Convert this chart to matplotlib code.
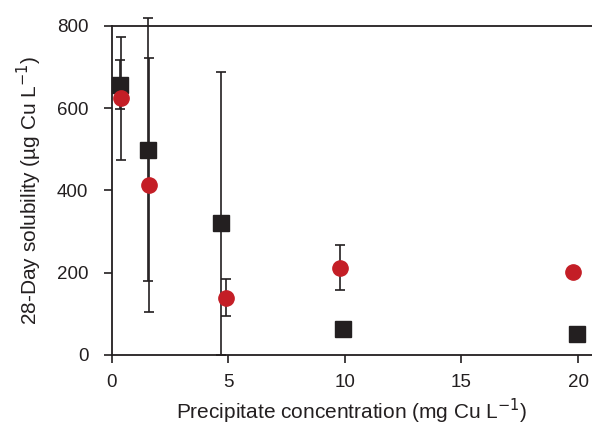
import matplotlib
matplotlib.use("Agg")
import matplotlib.pyplot as plt

plt.rcParams['font.family'] = ['Liberation Sans', 'DejaVu Sans']

# Data
sq_x = [0.35, 1.55, 4.7, 9.9, 19.95]
sq_y = [657, 499, 321, 63, 51]
sq_err_lo = [60, 320, 321, 0, 0]
sq_err_hi = [60, 320, 368, 0, 0]

ci_x = [0.4, 1.6, 4.9, 9.8, 19.8]
ci_y = [624, 413, 139, 212, 202]
ci_err = [150, 309, 45, 55, 0]

xticks = [0, 5, 10, 15, 20]
yticks = [0, 200, 400, 600, 800]

black = '#231f20'
red = '#c41e26'

fig = plt.figure(figsize=(5.92, 4.26), dpi=100)
ax = fig.add_axes([0.189, 0.167, 0.811, 0.772])

eb1 = ax.errorbar(sq_x, sq_y, yerr=[sq_err_lo, sq_err_hi], fmt='none', ecolor=black,
                  elinewidth=1.2, capsize=3.5, capthick=1.2, zorder=2)
eb2 = ax.errorbar(ci_x, ci_y, yerr=ci_err, fmt='none', ecolor=black, elinewidth=1.2,
                  capsize=3.5, capthick=1.2, zorder=2)
for eb in (eb1, eb2):
    for art in eb.lines[1]:
        art.set_clip_on(False)
    for art in eb.lines[2]:
        art.set_clip_on(False)
ax.plot(sq_x, sq_y, 's', color=black, markersize=11.5, zorder=3, clip_on=False)
ax.plot(ci_x, ci_y, 'o', color=red, markersize=11, zorder=4, clip_on=False)

ax.set_xlim(0, 20.6)
ax.set_ylim(0, 800)
ax.set_xticks(xticks)
ax.set_yticks(yticks)
ax.spines['right'].set_visible(False)
for s in ['left', 'bottom', 'top']:
    ax.spines[s].set_linewidth(1.3)
    ax.spines[s].set_color(black)
ax.tick_params(direction='out', length=6, width=1.2, labelsize=13.5, colors=black,
               top=False, right=False, pad=8)
ax.tick_params(axis='y', pad=11)

ax.set_xlabel('Precipitate concentration (mg Cu L$^{-1}$)', fontsize=15, color=black,
              labelpad=4)
ax.set_ylabel('28-Day solubility (µg Cu L$^{-1}$)', fontsize=15, color=black,
              labelpad=9)

fig.savefig('out.png', dpi=100)
